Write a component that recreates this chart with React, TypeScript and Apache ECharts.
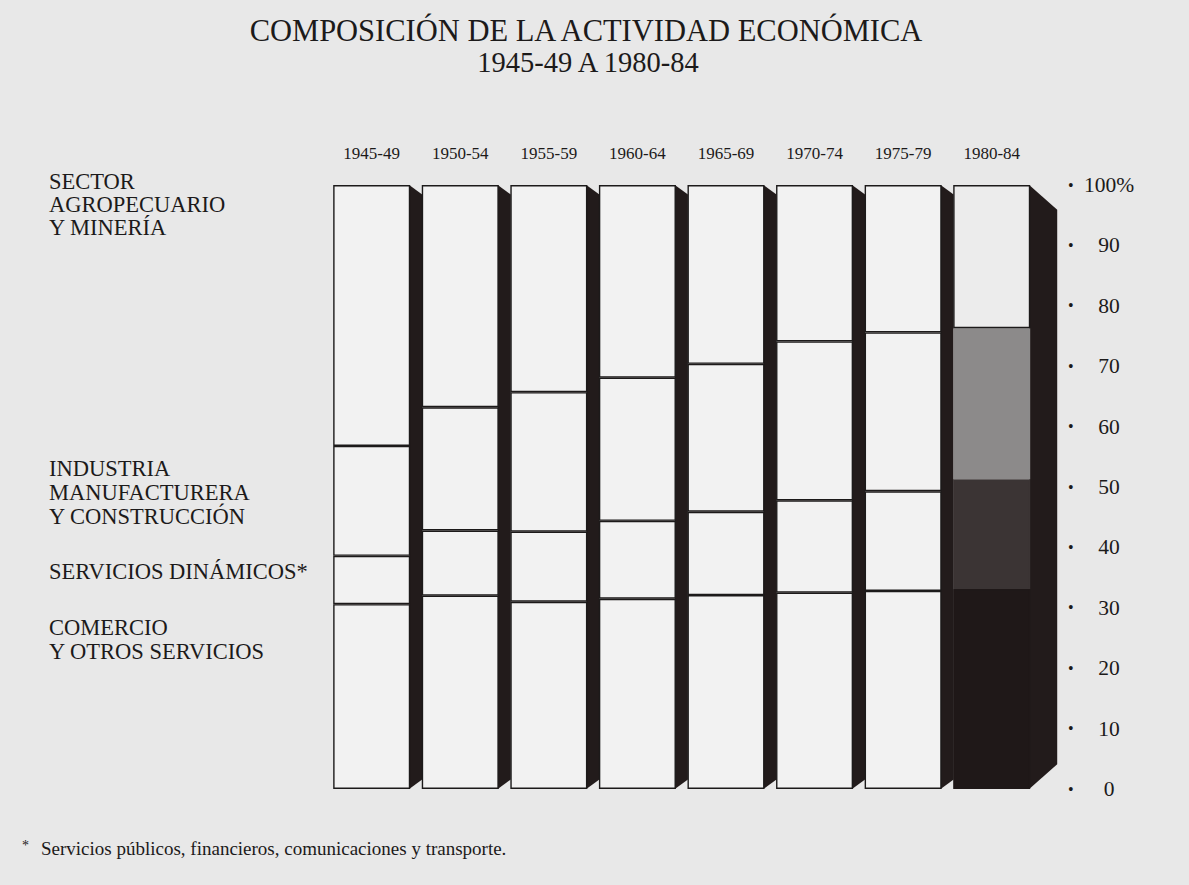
import React, { useEffect, useRef } from "react";
import * as echarts from "echarts";

// Categories (periods)
const periods = ["1945-49", "1950-54", "1955-59", "1960-64", "1965-69", "1970-74", "1975-79", "1980-84"];
// Shares of economic activity (%), stacked bottom to top
const comercio = [30.6, 32.0, 31.0, 31.5, 32.1, 32.5, 32.8, 33.1];
const serviciosDinamicos = [8.0, 10.8, 11.6, 12.9, 13.8, 15.3, 16.5, 18.2];
const industria = [18.2, 20.4, 23.1, 23.7, 24.5, 26.3, 26.3, 25.0];
const agro = [43.2, 36.8, 34.3, 31.9, 29.6, 25.9, 24.4, 23.7];
// Axis ticks
const yTickInterval = 10;
const yMax = 100;

const FONT = "'Liberation Serif', 'DejaVu Serif', serif";
const INK = "#1c1a1a";
const FACE = "#f2f2f2";
const SHADOW = "#221b1b";

export default function App() {
  const ref = useRef<HTMLDivElement>(null);

  useEffect(() => {
    if (!ref.current) return;
    const chart = echarts.init(ref.current, null, { renderer: "svg" });
    const last = periods.length - 1;
    const highlightColors = ["#1f1818", "#3b3434", "#8c8a8a", "#ececec"];

    const mk = (arr: number[], level: number) =>
      arr.map((v, i) =>
        i === last
          ? {
              value: v,
              itemStyle: {
                color: highlightColors[level],
                borderColor: level === 3 ? INK : highlightColors[level],
              },
            }
          : v
      );

    const barBase = {
      type: "bar" as const,
      stack: "total",
      barWidth: 77,
      z: 3,
      itemStyle: { color: FACE, borderColor: INK, borderWidth: 1.4 },
      emphasis: { disabled: true },
    };

    const leftLabels = [
      { t: "SECTOR", y: 181 },
      { t: "AGROPECUARIO", y: 204 },
      { t: "Y MINERÍA", y: 227 },
      { t: "INDUSTRIA", y: 468 },
      { t: "MANUFACTURERA", y: 492 },
      { t: "Y CONSTRUCCIÓN", y: 516 },
      { t: "SERVICIOS DINÁMICOS*", y: 571 },
      { t: "COMERCIO", y: 627 },
      { t: "Y OTROS SERVICIOS", y: 651 },
    ];

    chart.setOption({
      animation: false,
      backgroundColor: "#e8e8e8",
      grid: { left: 327.4, right: 153, top: 185, bottom: 96, containLabel: false },
      xAxis: {
        type: "category",
        position: "top",
        data: periods,
        axisLine: { show: false },
        axisTick: { show: false },
        axisLabel: { fontSize: 17, fontFamily: FONT, color: INK, margin: 23 },
      },
      yAxis: [
        {
          type: "value",
          position: "right",
          min: 0,
          max: yMax,
          interval: yTickInterval,
          axisLine: { show: false },
          axisTick: { show: false },
          splitLine: { show: false },
          axisLabel: { formatter: () => "•", margin: 32, fontSize: 16, fontFamily: FONT, color: INK },
        },
        {
          type: "value",
          position: "right",
          min: 0,
          max: yMax,
          interval: yTickInterval,
          axisLine: { show: false },
          axisTick: { show: false },
          splitLine: { show: false },
          axisLabel: {
            formatter: (v: number) => (v === yMax ? "100%" : String(v)),
            margin: 73,
            align: "center",
            fontSize: 21.5,
            fontFamily: FONT,
            color: INK,
          },
        },
      ],
      series: [
        {
          type: "custom",
          name: "sombra",
          z: 1,
          data: periods.map((_, i) => [i, yMax]),
          encode: { x: 0, y: 1 },
          renderItem: (params: any, api: any) => {
            const i = api.value(0);
            const top = api.coord([i, yMax]);
            const bot = api.coord([i, 0]);
            const xr = top[0] + 38.5;
            const isLast = i === last;
            const d = isLast ? 27 : 12;
            const k = isLast ? 0.92 : 0.8;
            return {
              type: "polygon",
              shape: {
                points: [
                  [xr - 1, top[1]],
                  [xr + d, top[1] + d * k],
                  [xr + d, bot[1] - d * k],
                  [xr - 1, bot[1]],
                ],
              },
              style: { fill: SHADOW },
            };
          },
        },
        { ...barBase, name: "Comercio y otros servicios", data: mk(comercio, 0) },
        { ...barBase, name: "Servicios dinámicos", data: mk(serviciosDinamicos, 1) },
        { ...barBase, name: "Industria manufacturera y construcción", data: mk(industria, 2) },
        { ...barBase, name: "Sector agropecuario y minería", data: mk(agro, 3) },
      ],
      graphic: [
        {
          type: "text",
          x: 586,
          y: 31,
          style: {
            text: "COMPOSICIÓN DE LA ACTIVIDAD ECONÓMICA",
            fontSize: 30.5,
            fontFamily: FONT,
            fill: INK,
            textAlign: "center",
            textVerticalAlign: "middle",
          },
        },
        {
          type: "text",
          x: 588,
          y: 62,
          style: {
            text: "1945-49 A 1980-84",
            fontSize: 28.5,
            fontFamily: FONT,
            fill: INK,
            textAlign: "center",
            textVerticalAlign: "middle",
          },
        },
        ...leftLabels.map((l) => ({
          type: "text",
          x: 49,
          y: l.y,
          style: {
            text: l.t,
            fontSize: 22.5,
            fontFamily: FONT,
            fill: INK,
            textAlign: "left",
            textVerticalAlign: "middle",
          },
        })),
        {
          type: "text",
          x: 22,
          y: 845,
          style: {
            text: "*",
            fontSize: 14,
            fontFamily: FONT,
            fill: INK,
            textAlign: "left",
            textVerticalAlign: "middle",
          },
        },
        {
          type: "text",
          x: 41,
          y: 848,
          style: {
            text: "Servicios públicos, financieros, comunicaciones y transporte.",
            fontSize: 19,
            fontFamily: FONT,
            fill: INK,
            textAlign: "left",
            textVerticalAlign: "middle",
          },
        },
      ],
    });

    return () => chart.dispose();
  }, []);

  return (
    <div
      ref={ref}
      style={{ position: "fixed", left: 0, top: 0, width: 1189, height: 885 }}
    />
  );
}
